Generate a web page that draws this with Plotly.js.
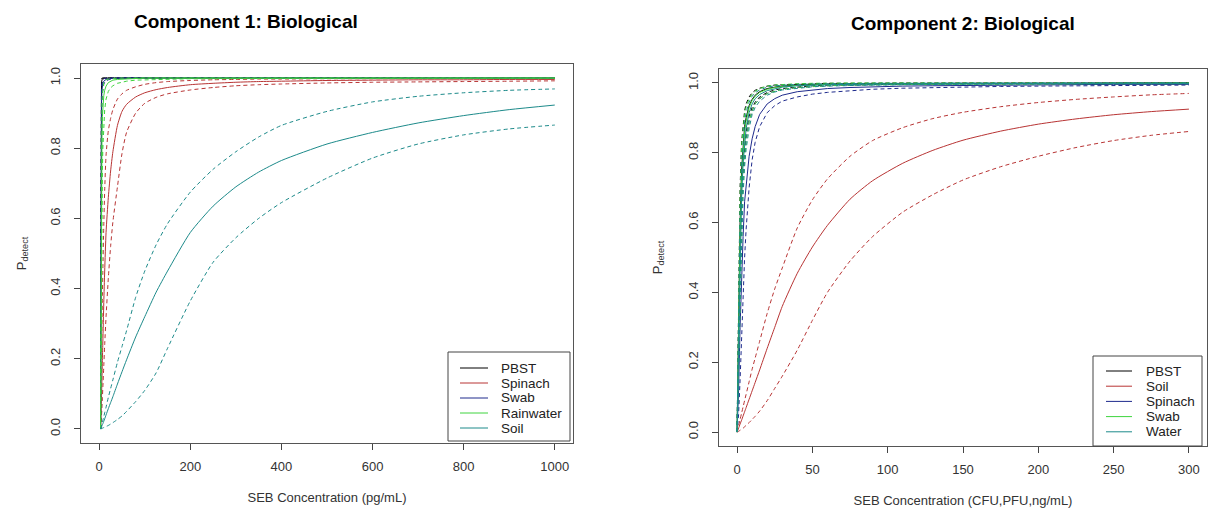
<!DOCTYPE html>
<html><head><meta charset="utf-8">
<script src="https://cdn.plot.ly/plotly-3.0.1.min.js"></script>
<style>html,body{margin:0;padding:0;background:#fff}#chart{width:1209px;height:508px}</style>
</head><body><div id="chart"></div>
<script>
// ---------- Component 1 (pg/mL) ----------
const c1_x =            [3, 4,    5,    6,    7,    8,    10,   12,   15,   20,   25,   30,   40,   50,   60,   80,   100,  125,  150,  200,  250,  300,  350,  400,  500,  600,  700,  800,  900,  1000];
const c1_pbst =         [0, 0.90, 0.985,0.995,0.998,0.999,1,    1,    1,    1,    1,    1,    1,    1,    1,    1,    1,    1,    1,    1,    1,    1,    1,    1,    1,    1,    1,    1,    1,    1];
const c1_pbst_lo =      [0, 0.80, 0.96, 0.985,0.992,0.995,0.998,0.999,1,    1,    1,    1,    1,    1,    1,    1,    1,    1,    1,    1,    1,    1,    1,    1,    1,    1,    1,    1,    1,    1];
const c1_pbst_hi =      [0, 0.95, 0.995,1,    1,    1,    1,    1,    1,    1,    1,    1,    1,    1,    1,    1,    1,    1,    1,    1,    1,    1,    1,    1,    1,    1,    1,    1,    1,    1];
const c1_spinach =      [0, 0.04, 0.09, 0.14, 0.20, 0.25, 0.36, 0.45, 0.56, 0.66, 0.735,0.79, 0.865,0.905,0.925,0.946,0.958,0.967,0.973,0.981,0.985,0.988,0.990,0.991,0.993,0.994,0.995,0.995,0.996,0.996];
const c1_spinach_lo =   [0, 0.02, 0.04, 0.06, 0.09, 0.12, 0.18, 0.24, 0.32, 0.43, 0.52, 0.59, 0.69, 0.785,0.845,0.90, 0.928,0.945,0.955,0.966,0.973,0.978,0.981,0.983,0.986,0.988,0.989,0.990,0.991,0.992];
const c1_spinach_hi =   [0, 0.10, 0.20, 0.30, 0.38, 0.45, 0.58, 0.68, 0.78, 0.85, 0.885,0.91, 0.94, 0.955,0.965,0.975,0.982,0.987,0.990,0.993,0.995,0.996,0.997,0.997,0.998,0.998,0.999,0.999,0.999,0.999];
const c1_swab =         [0, 0.75, 0.93, 0.965,0.978,0.985,0.991,0.994,0.996,0.998,0.999,1,    1,    1,    1,    1,    1,    1,    1,    1,    1,    1,    1,    1,    1,    1,    1,    1,    1,    1];
const c1_swab_lo =      [0, 0.60, 0.86, 0.93, 0.955,0.97, 0.982,0.988,0.992,0.995,0.997,0.998,0.999,1,    1,    1,    1,    1,    1,    1,    1,    1,    1,    1,    1,    1,    1,    1,    1,    1];
const c1_swab_hi =      [0, 0.85, 0.97, 0.985,0.992,0.995,0.998,0.999,1,    1,    1,    1,    1,    1,    1,    1,    1,    1,    1,    1,    1,    1,    1,    1,    1,    1,    1,    1,    1,    1];
const c1_rain =         [0, 0.40, 0.70, 0.83, 0.89, 0.92, 0.95, 0.965,0.977,0.987,0.991,0.994,0.996,0.997,0.998,0.999,1,    1,    1,    1,    1,    1,    1,    1,    1,    1,    1,    1,    1,    1];
const c1_rain_lo =      [0, 0.25, 0.50, 0.65, 0.74, 0.80, 0.87, 0.91, 0.94, 0.962,0.972,0.978,0.985,0.989,0.991,0.994,0.995,0.996,0.997,0.998,0.998,0.999,0.999,0.999,0.999,0.999,0.999,0.999,1,    1];
const c1_rain_hi =      [0, 0.60, 0.85, 0.93, 0.96, 0.975,0.987,0.992,0.995,0.997,0.998,0.999,1,    1,    1,    1,    1,    1,    1,    1,    1,    1,    1,    1,    1,    1,    1,    1,    1,    1];
const c1_soil =         [0, 0.003,0.006,0.009,0.012,0.015,0.022,0.029,0.04, 0.058,0.075,0.092,0.128,0.163,0.197,0.262,0.32, 0.39, 0.45, 0.56, 0.635,0.69, 0.732,0.765,0.812,0.845,0.872,0.893,0.91, 0.923];
const c1_soil_lo =      [0, 0,    0.001,0.001,0.002,0.003,0.004,0.005,0.007,0.01, 0.014,0.018,0.027,0.037,0.05, 0.078,0.11, 0.16, 0.23, 0.365,0.475,0.545,0.600,0.645,0.715,0.772,0.812,0.838,0.855,0.866];
const c1_soil_hi =      [0, 0.005,0.01, 0.015,0.02, 0.025,0.035,0.046,0.062,0.09, 0.115,0.14, 0.19, 0.235,0.28, 0.375,0.45, 0.525,0.585,0.675,0.74, 0.79, 0.832,0.865,0.905,0.932,0.948,0.958,0.965,0.969];

// ---------- Component 2 (CFU,PFU,ng/mL) ----------
const c2_x =            [0, 1,    2,    3,    4,    5,    6,    8,    10,   12,   15,   20,   25,   30,   40,   50,   60,   75,   90,   110,  130,  150,  175,  200,  225,  250,  275,  300];
const c2_pbst =         [0, 0.33, 0.60, 0.75, 0.83, 0.875,0.90, 0.935,0.953,0.965,0.975,0.984,0.988,0.991,0.994,0.996,0.997,0.998,0.998,0.999,0.999,0.999,0.999,1,    1,    1,    1,    1];
const c2_pbst_lo =      [0, 0.25, 0.50, 0.66, 0.76, 0.82, 0.86, 0.905,0.93, 0.945,0.96, 0.973,0.98, 0.984,0.989,0.992,0.994,0.995,0.996,0.997,0.998,0.998,0.998,0.999,0.999,0.999,0.999,0.999];
const c2_pbst_hi =      [0, 0.42, 0.70, 0.83, 0.89, 0.92, 0.94, 0.96, 0.972,0.979,0.985,0.991,0.994,0.995,0.997,0.998,0.999,0.999,1,    1,    1,    1,    1,    1,    1,    1,    1,    1];
const c2_soil =         [0, 0.011,0.023,0.034,0.046,0.058,0.07, 0.094,0.118,0.142,0.178,0.24, 0.30, 0.36, 0.455,0.53, 0.592,0.667,0.72, 0.77, 0.807,0.836,0.862,0.882,0.897,0.909,0.918,0.925];
const c2_soil_lo =      [0, 0.002,0.005,0.008,0.011,0.015,0.019,0.027,0.036,0.045,0.06, 0.09, 0.125,0.16, 0.235,0.32, 0.40, 0.49, 0.56, 0.63, 0.68, 0.722,0.76, 0.79, 0.815,0.835,0.85, 0.861];
const c2_soil_hi =      [0, 0.018,0.036,0.054,0.072,0.09, 0.108,0.144,0.18, 0.212,0.26, 0.34, 0.41, 0.47, 0.585,0.665,0.725,0.79, 0.835,0.872,0.898,0.916,0.932,0.944,0.953,0.96, 0.966,0.97];
const c2_spinach =      [0, 0.12, 0.30, 0.45, 0.56, 0.66, 0.71, 0.79, 0.84, 0.875,0.91, 0.94, 0.955,0.965,0.975,0.98, 0.984,0.987,0.989,0.991,0.992,0.993,0.994,0.995,0.995,0.996,0.996,0.996];
const c2_spinach_lo =   [0, 0.05, 0.15, 0.28, 0.40, 0.50, 0.58, 0.70, 0.78, 0.83, 0.875,0.915,0.935,0.948,0.96, 0.968,0.973,0.978,0.982,0.985,0.987,0.989,0.99, 0.991,0.992,0.993,0.994,0.994];
const c2_spinach_hi =   [0, 0.25, 0.50, 0.65, 0.74, 0.80, 0.84, 0.89, 0.92, 0.94, 0.955,0.97, 0.977,0.982,0.987,0.99, 0.992,0.994,0.995,0.996,0.996,0.997,0.997,0.997,0.998,0.998,0.998,0.998];
const c2_swab =         [0, 0.30, 0.56, 0.72, 0.81, 0.86, 0.89, 0.93, 0.95, 0.962,0.973,0.982,0.987,0.99, 0.993,0.995,0.996,0.997,0.997,0.998,0.998,0.998,0.999,0.999,0.999,0.999,0.999,0.999];
const c2_swab_lo =      [0, 0.18, 0.42, 0.60, 0.71, 0.78, 0.83, 0.89, 0.92, 0.94, 0.955,0.97, 0.977,0.982,0.987,0.99, 0.992,0.994,0.995,0.996,0.997,0.997,0.997,0.998,0.998,0.998,0.998,0.998];
const c2_swab_hi =      [0, 0.45, 0.68, 0.82, 0.88, 0.91, 0.93, 0.955,0.968,0.976,0.984,0.991,0.994,0.996,0.998,0.999,1,    1,    1,    1,    1,    1,    1,    1,    1,    1,    1,    1];
const c2_water =        [0, 0.25, 0.50, 0.67, 0.77, 0.83, 0.87, 0.915,0.94, 0.955,0.967,0.978,0.984,0.988,0.992,0.994,0.995,0.996,0.997,0.998,0.998,0.998,0.999,0.999,0.999,0.999,0.999,0.999];
const c2_water_lo =     [0, 0.15, 0.38, 0.56, 0.68, 0.76, 0.81, 0.87, 0.91, 0.93, 0.948,0.965,0.974,0.98, 0.985,0.989,0.991,0.993,0.994,0.995,0.996,0.997,0.997,0.997,0.998,0.998,0.998,0.998];
const c2_water_hi =     [0, 0.35, 0.62, 0.77, 0.85, 0.89, 0.915,0.945,0.962,0.972,0.98, 0.988,0.992,0.994,0.996,0.997,0.998,0.999,0.999,0.999,1,    1,    1,    1,    1,    1,    1,    1];

const c1_ticks = [0, 200, 400, 600, 800, 1000];
const c2_ticks = [0, 50, 100, 150, 200, 250, 300];
const y_ticks = [0, 0.2, 0.4, 0.6, 0.8, 1.0];
const c1_names = ['PBST', 'Spinach', 'Swab', 'Rainwater', 'Soil'];
const c2_names = ['PBST', 'Soil', 'Spinach', 'Swab', 'Water'];

const COL = {black:'#000000', red:'#B83434', navy:'#1E2A8C', green:'#3ED43E', teal:'#1C8A8A'};
const c1_colors = [COL.black, COL.red, COL.navy, COL.green, COL.teal];
const c2_colors = [COL.black, COL.red, COL.navy, COL.green, COL.teal];
const DASH = '4px,3px';

function group(xa, ya, x, mid, lo, hi, name, color, smooth) {
  const shape = smooth ? 'spline' : 'linear';
  const base = {type:'scatter', mode:'lines', x:x, xaxis:xa, yaxis:ya, hoverinfo:'skip', showlegend:false};
  return [
    Object.assign({}, base, {y:lo, name:name + ' lower', line:{color:color, width:1, dash:DASH, shape:shape, smoothing:0.6}}),
    Object.assign({}, base, {y:hi, name:name + ' upper', line:{color:color, width:1, dash:DASH, shape:shape, smoothing:0.6}}),
    Object.assign({}, base, {y:mid, name:name, line:{color:color, width:1, shape:shape, smoothing:0.6}})
  ];
}

const traces = [].concat(
  group('x','y', c1_x, c1_pbst, c1_pbst_lo, c1_pbst_hi, c1_names[0], c1_colors[0], false),
  group('x','y', c1_x, c1_spinach, c1_spinach_lo, c1_spinach_hi, c1_names[1], c1_colors[1], true),
  group('x','y', c1_x, c1_swab, c1_swab_lo, c1_swab_hi, c1_names[2], c1_colors[2], false),
  group('x','y', c1_x, c1_rain, c1_rain_lo, c1_rain_hi, c1_names[3], c1_colors[3], false),
  group('x','y', c1_x, c1_soil, c1_soil_lo, c1_soil_hi, c1_names[4], c1_colors[4], true),
  group('x2','y2', c2_x, c2_pbst, c2_pbst_lo, c2_pbst_hi, c2_names[0], c2_colors[0], false),
  group('x2','y2', c2_x, c2_soil, c2_soil_lo, c2_soil_hi, c2_names[1], c2_colors[1], true),
  group('x2','y2', c2_x, c2_spinach, c2_spinach_lo, c2_spinach_hi, c2_names[2], c2_colors[2], false),
  group('x2','y2', c2_x, c2_swab, c2_swab_lo, c2_swab_hi, c2_names[3], c2_colors[3], false),
  group('x2','y2', c2_x, c2_water, c2_water_lo, c2_water_hi, c2_names[4], c2_colors[4], false)
);

const W = 1209, H = 508;
const FONT = 'Liberation Sans, Arial, Helvetica, sans-serif';
const px = v => v / W, py = v => (H - v) / H;

const axBase = {showline:true, mirror:true, linecolor:'#555', linewidth:1, ticks:'outside', ticklen:6,
  tickcolor:'#444', showgrid:false, zeroline:false, tickfont:{family:FONT, size:13, color:'#333'}, fixedrange:true};

const shapes = [], annotations = [];

// legend boxes drawn in paper space (R-style compact legend)
function legend(names, colors, box, lineX, textX, y0, step) {
  shapes.push({type:'rect', xref:'paper', yref:'paper', x0:px(box[0]), x1:px(box[1]), y0:py(box[3]), y1:py(box[2]),
    line:{color:'#444', width:1}, fillcolor:'#ffffff', layer:'above'});
  names.forEach((n, i) => {
    const yy = py(y0 + i * step);
    shapes.push({type:'line', xref:'paper', yref:'paper', x0:px(lineX[0]), x1:px(lineX[1]), y0:yy, y1:yy,
      line:{color:colors[i], width:1}, layer:'above'});
    annotations.push({text:n, xref:'paper', yref:'paper', x:px(textX), y:yy, xanchor:'left', yanchor:'middle',
      showarrow:false, font:{family:FONT, size:13.5, color:'#222'}});
  });
}
legend(c1_names, c1_colors, [448, 570, 352, 441], [460, 488], 499, 368, 15);
legend(c2_names, c2_colors, [1093, 1202, 356, 446], [1106, 1132], 1144, 371, 15.2);

annotations.push(
  {text:'<b>Component 1: Biological</b>', xref:'paper', yref:'paper', x:px(246), y:py(21), xanchor:'center', yanchor:'middle', showarrow:false, font:{family:FONT, size:19, color:'#000'}},
  {text:'<b>Component 2: Biological</b>', xref:'paper', yref:'paper', x:px(963), y:py(23), xanchor:'center', yanchor:'middle', showarrow:false, font:{family:FONT, size:19, color:'#000'}}
);

const layout = {
  width:W, height:H, margin:{l:0, r:0, t:0, b:0}, paper_bgcolor:'#fff', plot_bgcolor:'#fff',
  font:{family:FONT}, showlegend:false,
  xaxis: Object.assign({}, axBase, {domain:[px(81), px(573)], range:[-40, 1040], tickvals:c1_ticks, anchor:'y', ticklabelstandoff:5,
    title:{text:'SEB Concentration (pg/mL)', font:{family:FONT, size:13, color:'#333'}, standoff:20}}),
  yaxis: Object.assign({}, axBase, {domain:[py(443), py(64)], range:[-0.04, 1.04], tickvals:y_ticks, tickformat:'.1f', tickangle:-90, anchor:'x', ticklabelstandoff:9,
    title:{text:'P<sub>detect</sub>', font:{family:FONT, size:13, color:'#333'}, standoff:18}}),
  xaxis2: Object.assign({}, axBase, {domain:[px(719), px(1207)], range:[-12, 312], tickvals:c2_ticks, anchor:'y2', ticklabelstandoff:5,
    title:{text:'SEB Concentration (CFU,PFU,ng/mL)', font:{family:FONT, size:13, color:'#333'}, standoff:20}}),
  yaxis2: Object.assign({}, axBase, {domain:[py(446), py(69)], range:[-0.04, 1.04], tickvals:y_ticks, tickformat:'.1f', tickangle:-90, anchor:'x2', ticklabelstandoff:9,
    title:{text:'P<sub>detect</sub>', font:{family:FONT, size:13, color:'#333'}, standoff:20}}),
  shapes: shapes,
  annotations: annotations
};

Plotly.newPlot('chart', traces, layout, {displayModeBar:false, staticPlot:true});
</script></body></html>
